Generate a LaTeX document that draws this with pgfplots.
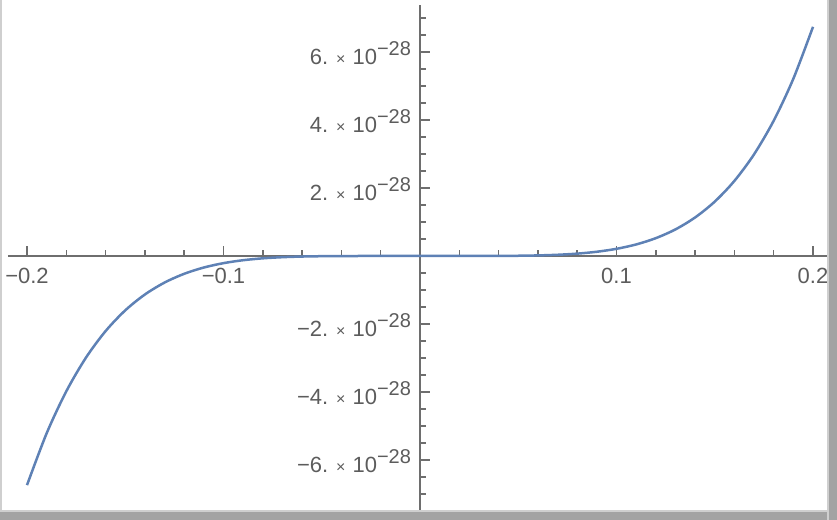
\documentclass[border=0pt]{standalone}
\usepackage{fontspec}
\setmainfont{Liberation Sans}
\usepackage{pgfplots}
\pgfplotsset{compat=1.18}
\definecolor{mcurve}{HTML}{5E81B5}
\definecolor{maxis}{HTML}{6E6E6E}
\definecolor{mlabel}{HTML}{5C5C5C}
\definecolor{frameA}{HTML}{CFCFCF}
\definecolor{frameB}{HTML}{A3A3A3}
% Mathematica style label: 6. x 10^-28
\newcommand{\sci}[1]{#1\hspace{4pt}{\fontsize{8}{8}\selectfont×}\hspace{3.5pt}10\raisebox{0.8ex}{\fontsize{10}{10}\selectfont −28}}
\begin{document}
\begin{tikzpicture}
\begin{axis}[
  x=982.5pt, y=17pt,
  axis lines=middle,
  axis line style={-, draw=maxis, line width=0.75pt},
  xmin=-0.2097, xmax=0.2077, ymin=-7.47, ymax=7.38,
  xtick={-0.2,-0.1,0.1,0.2},
  xticklabels={−0.2,−0.1,0.1,0.2},
  minor xtick={-0.18,-0.16,-0.14,-0.12,-0.08,-0.06,-0.04,-0.02,0.02,0.04,0.06,0.08,0.12,0.14,0.16,0.18},
  ytick={-6,-4,-2,2,4,6},
  yticklabels={\sci{−6.},\sci{−4.},\sci{−2.},\sci{2.},\sci{4.},\sci{6.}},
  minor ytick={-7,-6.5,-5.5,-5,-4.5,-3.5,-3,-2.5,-1.5,-1,-0.5,0.5,1,1.5,2.5,3,3.5,4.5,5,5.5,6.5,7},
  tick align=inside,
  major tick length=5pt, minor tick length=3pt,
  every tick/.style={draw=maxis, line width=0.75pt},
  ticklabel style={font=\fontsize{11}{12}\selectfont, text=mlabel},
  xticklabel style={anchor=north, yshift=-2.5pt},
  yticklabel style={anchor=east, xshift=-1pt, yshift=-0.5pt},
  clip=false,
]
\addplot[mcurve, line width=1.25pt, smooth, no marks] coordinates {
(-0.20,-6.7400) (-0.19,-5.2153) (-0.18,-3.9799) (-0.17,-2.9906)
(-0.16,-2.2086) (-0.15,-1.5994) (-0.14,-1.1328) (-0.13,-0.7820)
(-0.12,-0.5241) (-0.11,-0.3392) (-0.10,-0.2106) (-0.09,-0.1244)
(-0.08,-0.0690) (-0.07,-0.0354) (-0.06,-0.0164) (-0.05,-0.0066)
(-0.04,-0.0022) (-0.03,-0.0005) (-0.02,-0.0001) (-0.01,0) (0,0)
(0.01,0) (0.02,0.0001) (0.03,0.0005) (0.04,0.0022) (0.05,0.0066)
(0.06,0.0164) (0.07,0.0354) (0.08,0.0690) (0.09,0.1244)
(0.10,0.2106) (0.11,0.3392) (0.12,0.5241) (0.13,0.7820)
(0.14,1.1328) (0.15,1.5994) (0.16,2.2086) (0.17,2.9906)
(0.18,3.9799) (0.19,5.2153) (0.20,6.7400)
};
\coordinate (bl) at (axis cs:-0.21374,-7.765);
\coordinate (tr) at (axis cs:0.21221,7.529);
\end{axis}
\pgfresetboundingbox
\path[use as bounding box] (bl) rectangle (tr);
\fill[frameA] (bl) rectangle ++(1pt,260pt);
\fill[frameA] (bl) rectangle ++(418.5pt,5pt);
\fill[frameB] (bl) rectangle ++(418.5pt,4pt);
\fill[frameA] (tr) rectangle ++(-5pt,-260pt);
\fill[frameB] (tr) rectangle ++(-4pt,-260pt);
\end{tikzpicture}
\end{document}
